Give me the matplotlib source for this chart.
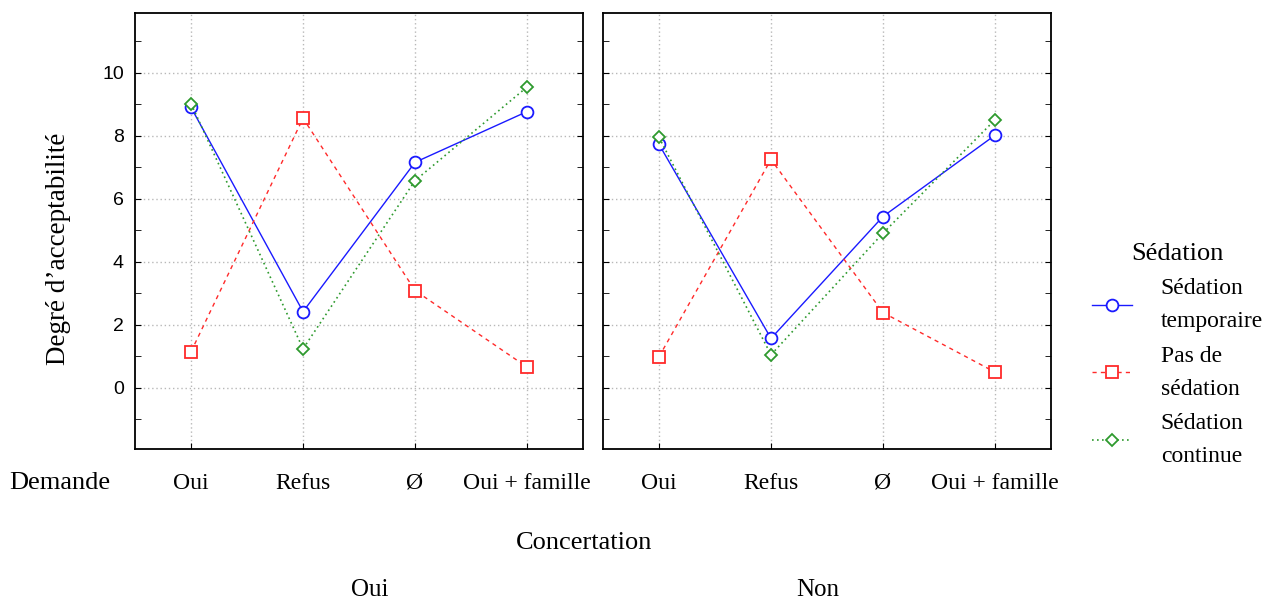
import numpy as np
import matplotlib.pyplot as plt
from matplotlib.ticker import MultipleLocator

demande = ["Oui", "Refus", "Ø", "Oui + famille"]
concertation = ["Oui", "Non"]
series = ["Sédation\ntemporaire", "Pas de\nsédation", "Sédation\ncontinue"]

# valeurs, par panneau (Concertation = Oui / Non)
temporaire = [[8.90, 2.42, 7.16, 8.77], [7.73, 1.57, 5.44, 8.02]]
pas_sedation = [[1.15, 8.56, 3.09, 0.66], [0.99, 7.25, 2.39, 0.50]]
continue_ = [[9.02, 1.24, 6.58, 9.55], [7.95, 1.05, 4.91, 8.51]]

styles = [
    dict(color="#1a1aff", ls="-", marker="o", ms=8.5, lw=1.0),
    dict(color="#ff2a2a", ls=(0, (3, 3)), marker="s", ms=9, lw=1.0),
    dict(color="#2e9a2e", ls=(0, (1, 2)), marker="D", ms=6, lw=1.2),
]
serif = "Liberation Serif"
sans = "Liberation Sans"

fig = plt.figure(figsize=(12.73, 6.01), dpi=100)
x = np.arange(len(demande))
axes = []
for i, left in enumerate([0.1061, 0.4737]):
    ax = fig.add_axes([left, 0.2529, 0.3519, 0.7255])
    axes.append(ax)
    for vals, st in zip([temporaire, pas_sedation, continue_], styles):
        ax.plot(x, vals[i], color=st["color"], ls=st["ls"], lw=st["lw"],
                marker=st["marker"], ms=st["ms"], mfc="white",
                mec=st["color"], mew=1.3)
    ax.set_xlim(-0.5, 3.5)
    ax.set_ylim(-1.94, 11.9)
    ax.set_xticks(x)
    ax.set_xticklabels(demande, fontfamily=serif, fontsize=17)
    ax.yaxis.set_major_locator(MultipleLocator(2))
    ax.yaxis.set_minor_locator(MultipleLocator(1))
    ax.tick_params(axis="both", which="both", direction="in", length=4,
                   pad=17, left=True, right=True)
    ax.tick_params(axis="y", pad=8, labelsize=14)
    ax.set_yticks([0, 2, 4, 6, 8, 10])
    for lab in ax.get_yticklabels():
        lab.set_fontfamily(sans)
    ax.grid(True, which="major", color="#b8b8b8", ls=(0, (1, 2)), lw=1)
    for sp in ax.spines.values():
        sp.set_linewidth(1.3)
    if i == 1:
        ax.tick_params(axis="y", labelleft=False)

axes[0].set_ylabel("Degré d\u2019acceptabilité", fontfamily=serif,
                   fontsize=19.5)
axes[0].yaxis.set_label_coords(-0.143, 0.46)

fig.text(60 / 1273, 1 - 483 / 601, "Demande", fontfamily=serif,
         fontsize=19, ha="center", va="center")
fig.text(584 / 1273, 1 - 543 / 601, "Concertation", fontfamily=serif,
         fontsize=19, ha="center", va="center")
for name, xp in zip(concertation, [370, 818]):
    fig.text(xp / 1273, 1 - 590 / 601, name, fontfamily=serif,
             fontsize=18, ha="center", va="center")

leg = fig.legend(axes[0].get_lines(), series, loc="upper left",
                 bbox_to_anchor=(1071 / 1273, 1 - 222 / 601),
                 frameon=False, title="Sédation",
                 prop=dict(family=serif, size=17),
                 handlelength=1.7, handletextpad=1.2, labelspacing=0.56)
leg.get_title().set_fontfamily(serif)
leg.get_title().set_fontsize(19)
for t in leg.get_texts():
    t.set_linespacing(1.75)

fig.savefig("out.png", dpi=100)
